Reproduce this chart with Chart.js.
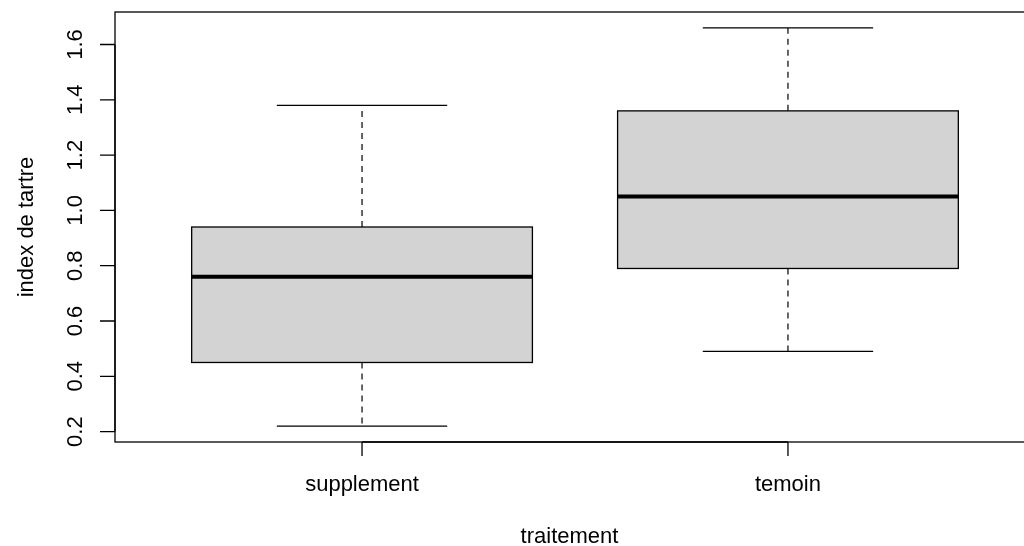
<!DOCTYPE html>
<html>
<head>
<meta charset="utf-8">
<script src="https://cdn.jsdelivr.net/npm/chart.js@4.4.0/dist/chart.umd.min.js"></script>
<style>
  html, body { margin: 0; padding: 0; background: #fff; overflow: hidden; }
  #wrap { width: 1040px; height: 546px; }
</style>
</head>
<body>
<div id="wrap"><canvas id="myChart" width="1040" height="546"></canvas></div>
<script>
// boxplot stats
const categories = ['supplement', 'temoin'];
const lowerWhisker = [0.22, 0.49];
const q1 = [0.45, 0.79];
const median = [0.76, 1.05];
const q3 = [0.94, 1.36];
const upperWhisker = [1.38, 1.66];
const yTicks = [0.2, 0.4, 0.6, 0.8, 1.0, 1.2, 1.4, 1.6];
const xTitle = 'traitement';
const yTitle = 'index de tartre';

const FONT = '22px "Liberation Sans", Arial, sans-serif';

// draws boxes, whiskers and R-style axes using the chart scales
const boxplotPlugin = {
    id: 'boxplot',
    afterDatasetsDraw(chart) {
        const ctx = chart.ctx;
        const x = chart.scales.x;
        const y = chart.scales.y;
        const area = chart.chartArea;
        const boxHalf = 0.4;
        const capHalf = 0.2;

        ctx.save();
        categories.forEach((cat, i) => {
            const pos = i + 1;
            const cx = x.getPixelForValue(pos);
            const left = x.getPixelForValue(pos - boxHalf);
            const right = x.getPixelForValue(pos + boxHalf);
            const capL = x.getPixelForValue(pos - capHalf);
            const capR = x.getPixelForValue(pos + capHalf);
            const yLo = y.getPixelForValue(lowerWhisker[i]);
            const yQ1 = y.getPixelForValue(q1[i]);
            const yMed = y.getPixelForValue(median[i]);
            const yQ3 = y.getPixelForValue(q3[i]);
            const yHi = y.getPixelForValue(upperWhisker[i]);

            // whiskers (dashed)
            ctx.strokeStyle = '#000';
            ctx.lineWidth = 1.2;
            ctx.setLineDash([6, 5]);
            ctx.beginPath();
            ctx.moveTo(cx, yQ1); ctx.lineTo(cx, yLo);
            ctx.moveTo(cx, yQ3); ctx.lineTo(cx, yHi);
            ctx.stroke();
            ctx.setLineDash([]);

            // caps
            ctx.beginPath();
            ctx.moveTo(capL, yLo); ctx.lineTo(capR, yLo);
            ctx.moveTo(capL, yHi); ctx.lineTo(capR, yHi);
            ctx.stroke();

            // box
            ctx.fillStyle = '#d3d3d3';
            ctx.fillRect(left, yQ3, right - left, yQ1 - yQ3);
            ctx.lineWidth = 1.3;
            ctx.strokeRect(left, yQ3, right - left, yQ1 - yQ3);

            // median
            ctx.lineWidth = 4;
            ctx.beginPath();
            ctx.moveTo(left, yMed); ctx.lineTo(right, yMed);
            ctx.stroke();
        });

        // frame
        ctx.lineWidth = 1.3;
        ctx.strokeStyle = '#000';
        ctx.strokeRect(area.left, area.top, area.right - area.left, area.bottom - area.top);

        // y axis ticks + labels (rotated like R)
        ctx.font = FONT;
        ctx.fillStyle = '#000';
        ctx.beginPath();
        ctx.moveTo(area.left, y.getPixelForValue(yTicks[0]));
        ctx.lineTo(area.left, y.getPixelForValue(yTicks[yTicks.length - 1]));
        yTicks.forEach(v => {
            const py = y.getPixelForValue(v);
            ctx.moveTo(area.left - 15, py);
            ctx.lineTo(area.left, py);
        });
        ctx.stroke();
        yTicks.forEach(v => {
            const py = y.getPixelForValue(v);
            ctx.save();
            ctx.translate(82, py);
            ctx.rotate(-Math.PI / 2);
            ctx.textAlign = 'center';
            ctx.textBaseline = 'alphabetic';
            ctx.fillText(v.toFixed(1), 0, 0);
            ctx.restore();
        });

        // x axis ticks + labels
        ctx.beginPath();
        ctx.moveTo(x.getPixelForValue(1), area.bottom);
        ctx.lineTo(x.getPixelForValue(categories.length), area.bottom);
        categories.forEach((cat, i) => {
            const px = x.getPixelForValue(i + 1);
            ctx.moveTo(px, area.bottom);
            ctx.lineTo(px, area.bottom + 14);
        });
        ctx.stroke();
        ctx.textAlign = 'center';
        ctx.textBaseline = 'alphabetic';
        categories.forEach((cat, i) => {
            ctx.fillText(cat, x.getPixelForValue(i + 1), 491);
        });

        // axis titles
        ctx.fillText(xTitle, (area.left + 1024) / 2, 543);
        ctx.save();
        ctx.translate(33, (area.top + area.bottom) / 2);
        ctx.rotate(-Math.PI / 2);
        ctx.fillText(yTitle, 0, 0);
        ctx.restore();
        ctx.restore();
    }
};

const ctx = document.getElementById('myChart');

new Chart(ctx, {
    type: 'scatter',
    data: {
        datasets: [{
            label: 'median',
            data: median.map((m, i) => ({ x: i + 1, y: m })),
            pointRadius: 0,
            showLine: false
        }]
    },
    options: {
        responsive: false,
        animation: false,
        events: [],
        layout: {
            padding: { left: 115, top: 12, right: 5, bottom: 104 }
        },
        plugins: {
            legend: { display: false },
            tooltip: { enabled: false }
        },
        scales: {
            x: { type: 'linear', min: 0.42, max: 2.58, display: false },
            y: { type: 'linear', min: 0.1624, max: 1.7176, display: false }
        }
    },
    plugins: [boxplotPlugin]
});
</script>
</body>
</html>
